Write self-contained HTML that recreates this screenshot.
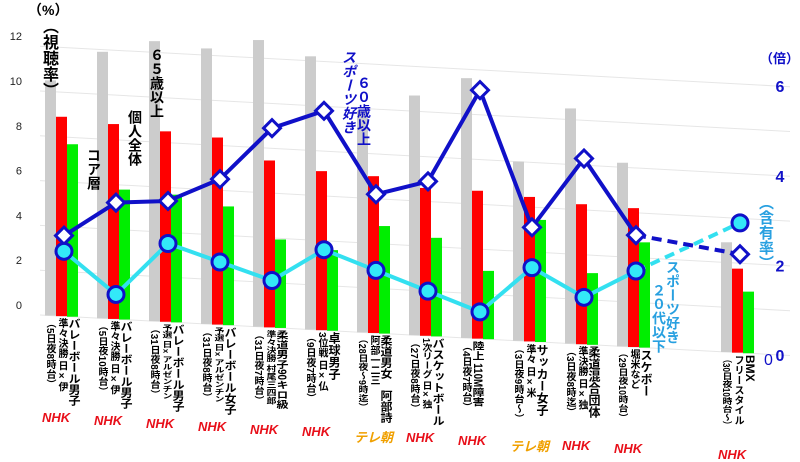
<!DOCTYPE html>
<html><head><meta charset="utf-8">
<style>
body{margin:0;width:800px;height:450px;overflow:hidden;background:#fff;font-family:"Liberation Sans","Noto Sans CJK JP",sans-serif;}
#wrap{position:relative;width:800px;height:450px;}
.v{position:absolute;writing-mode:vertical-rl;font-weight:bold;line-height:1;white-space:nowrap;}
.t{position:absolute;font-weight:bold;white-space:nowrap;}
.nhk{position:absolute;color:#e8101a;font-weight:bold;font-style:italic;font-size:13px;}
.asahi{position:absolute;color:#f0a000;font-weight:bold;font-style:italic;font-size:13px;}
</style></head><body>
<div id="wrap">
<svg id="svg" width="800" height="450" style="position:absolute;left:0;top:0"></svg>
<div class="t" style="left:28px;top:0px;font-size:14px">（%）</div>
<div class="v" style="left:40px;top:18px;font-size:16px">（視聴率）</div>
<div class="v" style="left:150px;top:48px;font-size:14px">６５歳以上</div>
<div class="v" style="left:128px;top:110px;font-size:14px">個人全体</div>
<div class="v" style="left:87px;top:148px;font-size:14px">コア層</div>
<div class="v" style="left:342px;top:50px;font-size:14px;color:#1010c8;font-style:italic">スポーツ好き</div>
<div class="v" style="left:357px;top:76px;font-size:14px;color:#1010c8">６０歳以上</div>
<div class="t" style="left:760px;top:48px;font-size:13px;color:#1010c8">（倍）</div>
<div class="v" style="left:758px;top:195px;font-size:15px;color:#28a0e0">（含有率）</div>
<div class="v" style="left:666px;top:260px;font-size:14px;color:#28a0e0">スポーツ好き</div>
<div class="v" style="left:652px;top:283px;font-size:14px;color:#28a0e0">２０代以下</div>
<div id="labels"></div>
</div>
<script>
const categories=["バレーボール男子","バレーボール男子","バレーボール男子","バレーボール女子","柔道男子90キロ級","卓球男子","柔道男女　阿部詩","バスケットボール","陸上 110M障害","サッカー女子","柔道混合団体","スケボー","BMX"];
const subs=["準々決勝 日×伊","準々決勝 日×伊","予選 日×アルゼンチン","予選 日×アルゼンチン","準々決勝 村尾三四郎","3位戦 日×仏","阿部一二三","1次リーグ 日×独","","準々 日×米","準決勝 日×独","堀米など","フリースタイル"];
const dates=["（5日夜8時台）","（5日夜10時台）","（31日夜8時台）","（31日夜8時台）","（31日夜7時台）","（9日夜7時台）","（28日夜～9時迄）","（27日夜8時台）","（4日夜7時台）","（3日夜9時台～）","（3日夜8時迄）","（29日夜10時台）","（30日夜10時台～）"];
const channels=["NHK","NHK","NHK","NHK","NHK","NHK","テレ朝","NHK","NHK","テレ朝","NHK","NHK","NHK"];
const slots=[0,1,2,3,4,5,6,7,8,9,10,11,13];
const over65=[10.5,11.9,12.5,12.3,12.8,12.2,9.9,10.7,11.6,8.0,10.5,8.2,4.9];
const overall=[8.9,8.7,8.5,8.35,7.45,7.1,7.0,6.6,6.6,6.45,6.25,6.2,3.75];
const core=[7.7,5.8,5.7,5.3,3.95,3.6,4.8,4.4,3.05,5.45,3.2,4.7,2.75];
const sports60=[1.8,2.6,2.7,3.25,4.45,4.9,3.1,3.45,5.55,2.55,4.15,2.5,2.2];
const sports20=[1.45,0.55,1.75,1.4,1.05,1.8,1.4,1.0,0.6,1.65,1.05,1.7,2.9];
const leftTicks=[0,2,4,6,8,10,12];
const rightTicks=[0,2,4,6];

const NS="http://www.w3.org/2000/svg";
const svg=document.getElementById('svg');
const SL=0.054, Y0=315, UNIT=22.4;
function X(i){return 45+slots[i]*52;}
function Y(x,v){return Y0+SL*(x-40)-v*UNIT;}
function YR(x,v){return Y(x,v*2);}
function mk(tag,attrs){const e=document.createElementNS(NS,tag);for(const k in attrs)e.setAttribute(k,attrs[k]);svg.appendChild(e);return e;}

leftTicks.forEach(t=>{
  const g=mk('line',{x1:40,y1:Y(40,t),x2:790,y2:Y(790,t),stroke:'#e6e6e6','stroke-width':1});
  
  
  const tx=mk('text',{x:22,y:Y(40,t)-6,'font-size':11,'font-family':'Liberation Sans',fill:'#222','text-anchor':'end'});
  tx.textContent=t;
  
  
});
rightTicks.forEach(t=>{
  const tx=mk('text',{x:780,y:YR(780,t)+6,'font-size':16,'font-weight':'bold','font-family':'Liberation Sans',fill:'#1010c8','text-anchor':'middle'});
  tx.textContent=t;
  
  
});
function bar(x,v,col,name){
  const top=Y(x+5,v),bot=Y(x+5,0);
  const r=mk('rect',{x:x,y:top,width:11,height:bot-top,fill:col});
  
  
}
categories.forEach((c,i)=>{
  const x=X(i);
  bar(x,over65[i],'#cccccc','bar-65-over');
  bar(x+11,overall[i],'#ff0000','bar-overall');
  bar(x+22,core[i],'#00ee00','bar-core');
});
function pts(arr){return arr.map((v,i)=>{const x=X(i)+19;return [x,YR(x,v)];});}
const p60=pts(sports60), p20=pts(sports20);
function poly(p,col,w,dash,name){
  const l=mk('polyline',{points:p.map(q=>q.join(',')).join(' '),fill:'none',stroke:col,'stroke-width':w,'stroke-dasharray':dash||'none','stroke-linejoin':'round'});
  
  
}
poly(p20.slice(0,12),'#33e0f0',4,null,'line-sports-20');
poly(p20.slice(11),'#33e0f0',4,'10,6','line-sports-20-dashed');
poly(p60.slice(0,12),'#1010c8',4,null,'line-sports-60');
poly(p60.slice(11),'#1010c8',4,'10,6','line-sports-60-dashed');
p60.forEach(q=>{
  const d=mk('rect',{x:q[0]-6,y:q[1]-6,width:12,height:12,fill:'#fff',stroke:'#1010c8','stroke-width':3,transform:`rotate(45 ${q[0]} ${q[1]})`});
  
  
});
p20.forEach(q=>{
  const c=mk('circle',{cx:q[0],cy:q[1],r:8,fill:'#33e8f8',stroke:'#1010c8','stroke-width':3});
  
  
});
const zr=mk('text',{x:764,y:365,'font-size':16,'font-family':'Liberation Sans',fill:'#1010c8'});
zr.textContent='0';



const lab=document.getElementById('labels');
categories.forEach((c,i)=>{
  const x=X(i), top=Y(x,0)+3;
  const cols=[[c,12,x+23,88],[subs[i],10,x+11,80],[dates[i],10,x-1,88]];
  cols.forEach((cc,k)=>{
    if(!cc[0])return;
    const d=document.createElement('div');
    d.className='v';
    const left=(k===0&&!subs[i])?cc[2]-12:cc[2];
    d.style.left=left+'px';
    d.style.top=top+'px';
    d.style.fontSize=cc[1]+'px';
    const est=cc[0].length*cc[1];
    const s=Math.min(1,cc[3]/est);
    d.style.transformOrigin='top left';
    d.style.transform='scaleY('+s.toFixed(3)+')';
    d.textContent=cc[0];
    
    
    lab.appendChild(d);
  });
  const n=document.createElement('div');
  n.className=channels[i]==='NHK'?'nhk':'asahi';
  n.style.left=(x-3)+'px';
  n.style.top=(top+92)+'px';
  n.textContent=channels[i];
  
  
  lab.appendChild(n);
});
</script>
</body></html>
